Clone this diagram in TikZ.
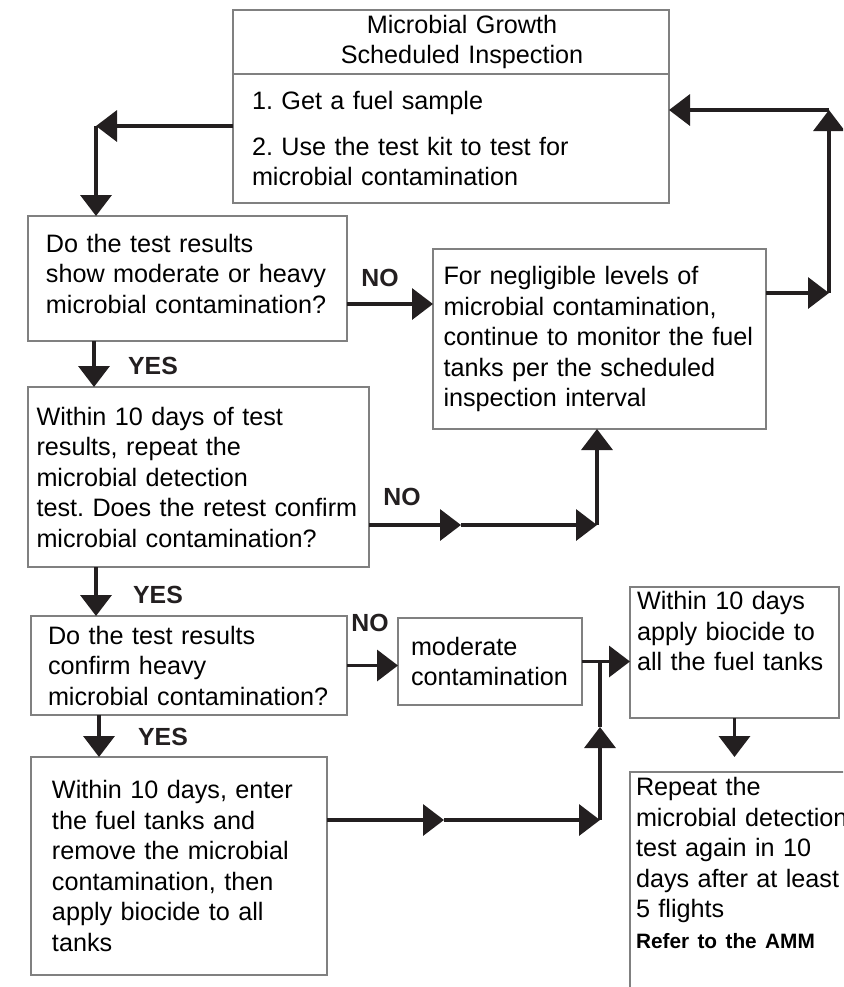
\documentclass[tikz,border=0pt]{standalone}
\usepackage{fontspec}
\setmainfont{Liberation Sans}
\usetikzlibrary{arrows.meta, calc}
\definecolor{boxgray}{RGB}{128,128,128}
\definecolor{arrowblack}{RGB}{35,31,32}

\begin{document}
\frenchspacing
\begin{tikzpicture}[x=0.5pt, y=-0.5pt,
  box/.style={draw=boxgray, line width=1pt, anchor=north west, align=left, outer sep=0pt,
    inner ysep=0pt, font=\fontsize{12.6pt}{15.25pt}\selectfont},
  tag/.style={font=\fontsize{12.4pt}{15pt}\selectfont\bfseries, text=arrowblack},
  arr/.style={draw=arrowblack, line width=1.75pt, -{Triangle[length=10.5pt, width=15.5pt]}},
  link/.style={draw=arrowblack, line width=1.75pt}]
  \useasboundingbox (0,0) rectangle (843,987);
  \clip (0,0) rectangle (843,987);
  \fill[white] (0,0) rectangle (843,987);

  \node[box, align=center, minimum width=218pt, minimum height=32pt, text width=200pt] (head) at (233,10)
    {\hspace*{11pt}Microbial Growth\\\hspace*{11pt}Scheduled Inspection};
  \node[box, minimum width=218pt, minimum height=64.5pt, text width=199pt, inner xsep=9.5pt] (steps) at (233,74)
    {1. Get a fuel sample\\[7.5pt]2. Use the test kit to test for\\microbial contamination};
  \node[box, minimum width=159.5pt, minimum height=62.5pt, text width=141.5pt, inner xsep=9pt,
    text depth=35.5pt] (qtest) at (28,216)
    {Do the test results\\show moderate or heavy\\microbial contamination?};
  \node[box, minimum width=166.5pt, minimum height=90pt, text width=156pt, inner xsep=5.25pt] (negl) at (433,249)
    {For negligible levels of\\microbial contamination,\\continue to monitor the fuel\\tanks per the scheduled\\inspection interval};
  \node[box, minimum width=170.5pt, minimum height=90pt, text width=162pt, inner xsep=4.25pt] (retest) at (28,387)
    {Within 10 days of test\\results, repeat the\\microbial detection\\test. Does the retest confirm\\microbial contamination?};
  \node[box, minimum width=158pt, minimum height=49.5pt, text width=141pt, inner xsep=8.5pt] (heavy) at (31,616)
    {Do the test results\\confirm heavy\\microbial contamination?};
  \node[box, minimum width=92pt, minimum height=43.5pt, text width=79pt, inner xsep=6.5pt] (moder) at (398,618)
    {moderate\\contamination};
  \node[box, minimum width=104.5pt, text width=97.5pt, inner xsep=3.5pt, inner ysep=2.25pt,
    text height=9pt, text depth=52pt] (biocide) at (630,587)
    {Within 10 days\\apply biocide to\\all the fuel tanks};
  \node[box, minimum width=148pt, minimum height=109pt, text width=127pt, inner xsep=10.5pt] (enter) at (31,757)
    {Within 10 days, enter\\the fuel tanks and\\remove the microbial\\contamination, then\\apply biocide to all\\tanks};
  \node[box, minimum width=120pt, text width=114pt, inner xsep=3pt, inner ysep=2.75pt,
    text height=9pt, text depth=110pt] (repeat) at (630,772)
    {Repeat the\\microbial detection\\test again in 10\\days after at least\\5 flights\\{\fontsize{10.4pt}{12pt}\selectfont\bfseries Refer to the AMM}};

  \node[tag] (yes1) at (153,366) {YES};
  \node[tag] (yes2) at (158,595) {YES};
  \node[tag] (yes3) at (163,737) {YES};
  \node[tag] (no1) at (380,278) {NO};
  \node[tag] (no2) at (402,497) {NO};
  \node[tag] (no3) at (370,623) {NO};

  \coordinate (tl) at (96,126);
  \draw[arr] (tl -| steps.west) -- (tl);
  \draw[arr] (tl) -- (tl |- qtest.north);

  \coordinate (n1) at (0,304);
  \draw[arr] (qtest.east |- n1) -- (negl.west |- n1);

  \coordinate (r1) at (829,293);
  \coordinate (r2) at (829,110);
  \draw[arr] (negl.east |- r1) -- (r1);
  \draw[arr] (r1) -- (r2);
  \draw[arr] (r2) -- (r2 -| steps.east);

  \coordinate (c1) at (94,0);
  \draw[arr] (c1 |- qtest.south) -- (c1 |- retest.north);

  \coordinate (m2) at (461,525);
  \coordinate (k2) at (597,525);
  \draw[arr] (retest.east |- m2) -- (m2);
  \draw[arr] (m2) -- (k2);
  \draw[arr] (k2) -- (k2 |- negl.south);

  \coordinate (c2) at (96,0);
  \draw[arr] (c2 |- retest.south) -- (c2 |- heavy.north);
  \draw[arr] (heavy.east) -- (heavy.east -| moder.west);
  \draw[arr] (moder.east) -- (moder.east -| biocide.west);

  \coordinate (c3) at (99,0);
  \draw[arr] (c3 |- heavy.south) -- (c3 |- enter.north);

  \coordinate (m4) at (444,820);
  \coordinate (k4) at (600,820);
  \coordinate (u4) at (600,727);
  \draw[arr] (enter.east |- m4) -- (m4);
  \draw[arr] (m4) -- (k4);
  \draw[arr] (k4) -- (u4);
  \draw[link] (u4) -- (u4 |- moder.east);

  \draw[arr, shorten >=7.5pt] (biocide.south) -- (biocide.south |- repeat.north);
\end{tikzpicture}
\end{document}
